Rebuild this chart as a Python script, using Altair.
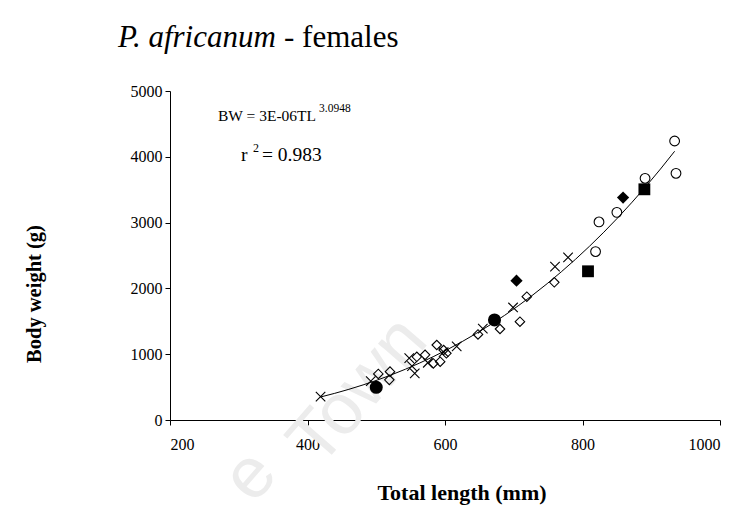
import altair as alt
import pandas as pd

# Total length (mm) / body weight (g) by marker group
cross_tl = [419, 492, 548, 552, 556, 575, 598, 617, 655, 699, 760, 779]
cross_bw = [354, 590, 940, 820, 710, 870, 1030, 1120, 1390, 1710, 2330, 2470]

odiam_tl = [503, 520, 519, 559, 571, 583, 588, 593, 598, 602, 648, 680, 709, 719, 759]
odiam_bw = [700, 735, 610, 960, 990, 860, 1140, 886, 1064, 1013, 1300, 1383, 1494, 1874, 2092]

fcirc_tl = [500, 672]
fcirc_bw = [497, 1520]

fdiam_tl = [704, 859]
fdiam_bw = [2117, 3380]

fsq_tl = [808, 890]
fsq_bw = [2260, 3506]

ocirc_tl = [819, 824, 850, 891, 934, 936]
ocirc_bw = [2560, 3010, 3156, 3673, 4240, 3749]

x_ticks = [200, 400, 600, 800, 1000]
y_ticks = [0, 1000, 2000, 3000, 4000, 5000]

SERIF = "Liberation Serif"

groups = [
    ("cross", cross_tl, cross_bw),
    ("odiam", odiam_tl, odiam_bw),
    ("fcirc", fcirc_tl, fcirc_bw),
    ("fdiam", fdiam_tl, fdiam_bw),
    ("fsq", fsq_tl, fsq_bw),
    ("ocirc", ocirc_tl, ocirc_bw),
]
df = pd.concat(
    [pd.DataFrame({"TL": tl, "BW": bw, "group": g}) for g, tl, bw in groups],
    ignore_index=True,
)

x_enc = alt.X(
    "TL:Q",
    scale=alt.Scale(domain=[200, 1000], nice=False, zero=False),
    axis=alt.Axis(values=x_ticks, format="d", title=None, grid=False,
                  labelPadding=11),
)
y_enc = alt.Y(
    "BW:Q",
    scale=alt.Scale(domain=[0, 5000], nice=False),
    axis=alt.Axis(values=y_ticks, format="d", title=None, grid=False,
                  labelPadding=3),
)

base = alt.Chart(df).encode(x=x_enc, y=y_enc)


def pts(group, shape, filled, size):
    return base.transform_filter(alt.datum.group == group).mark_point(
        shape=shape, filled=filled, size=size, color="black",
        strokeWidth=1.1, opacity=1,
    )


X_SHAPE = "M-1,-1L1,1M1,-1L-1,1"

fit = base.transform_regression(
    "TL", "BW", method="pow", extent=[419, 934]
).mark_line(color="black", strokeWidth=1)

one = pd.DataFrame({"k": [0]})


def label(text, x, y, size, **kw):
    return alt.Chart(one).mark_text(
        text=text, font=kw.pop("font", SERIF), fontSize=size,
        color=kw.pop("color", "black"), align=kw.pop("align", "left"),
        baseline=kw.pop("baseline", "alphabetic"), **kw,
    ).encode(x=alt.value(x), y=alt.value(y))


# plot area origin sits at (170, 91) on the page
wm = dict(font="Liberation Sans", color="#ececec", angle=311,
          align="center", baseline="middle")
texts = [
    label("e", 80, 385, 72, **wm),
    label("Town", 188, 300, 72, **wm),
    label("P. africanum", -52, -44, 31, fontStyle="italic"),
    label("- females", 114, -44, 31),
    label("BW = 3E-06TL", 48, 30, 15.5),
    label("3.0948", 149, 21, 11.5),
    label("r", 71, 70, 19.5),
    label("2", 83, 61, 12),
    label("= 0.983", 92, 70, 19.5),
    label("Body weight (g)", -135, 203, 20.5, fontWeight="bold", angle=270,
          align="center", baseline="middle"),
    label("Total length (mm)", 292, 409, 22, fontWeight="bold",
          align="center"),
]

chart = alt.layer(
    texts[0],
    texts[1],
    fit,
    pts("cross", X_SHAPE, False, 90),
    pts("odiam", "diamond", False, 90),
    pts("ocirc", "circle", False, 95),
    pts("fcirc", "circle", True, 170),
    pts("fdiam", "diamond", True, 150),
    pts("fsq", "square", True, 140),
    *texts[2:],
).properties(
    width=550,
    height=329,
    background="white",
    autosize=alt.AutoSizeParams(type="none"),
    padding={"left": 170, "top": 91, "right": 30, "bottom": 100},
).configure_view(
    strokeWidth=0
).configure_axis(
    labelFont=SERIF,
    labelFontSize=16,
    labelColor="black",
    domainColor="black",
    domainWidth=1,
    tickColor="black",
    tickSize=5,
    tickWidth=1,
)

chart.save("out.html", embed_options={"renderer": "svg", "actions": False})
